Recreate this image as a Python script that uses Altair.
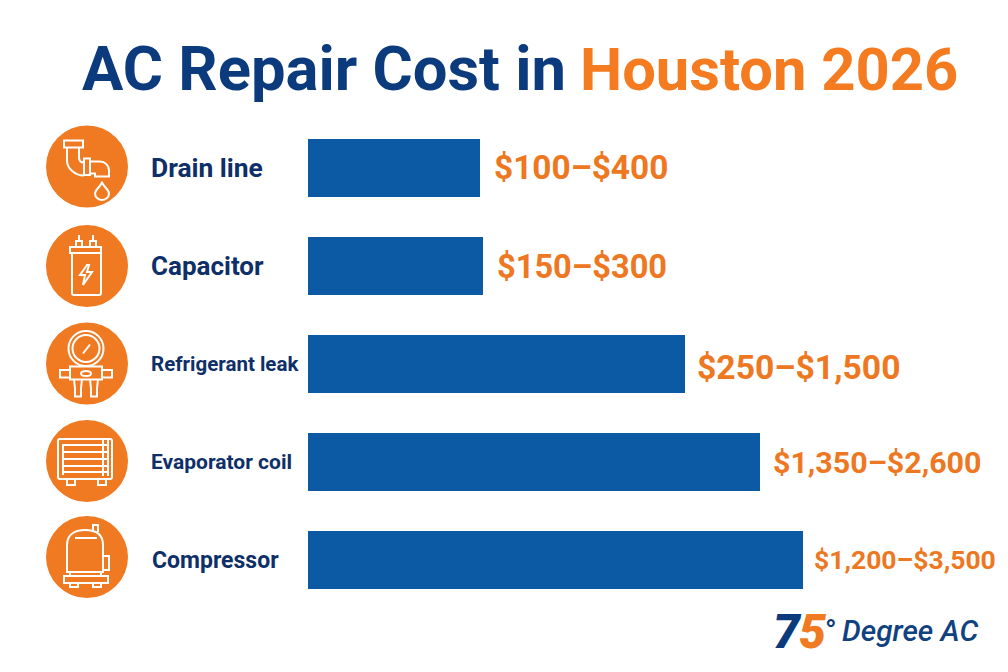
import altair as alt
import pandas as pd

# Repair types, top to bottom
ITEMS = ["Drain line", "Capacitor", "Refrigerant leak", "Evaporator coil", "Compressor"]
RANGES = ["$100–$400", "$150–$300", "$250–$1,500", "$1,350–$2,600", "$1,200–$3,500"]
# bar lengths are not proportional to the ranges in the original
BAR_LENGTHS = [172, 175, 377, 452, 495]

NAVY = "#0b3b7c"
LABEL_NAVY = "#0e2f68"
BLUE = "#0c5aa3"
ORANGE = "#f07a22"
LABEL_ORANGE = "#ee7722"
FONT = "Roboto"

# white line icons, path units are pixels from the centre of the circle
ICONS = {
    "Drain line": (
        "M-23 -26H-4V-19H-23Z M-20 -19V-6C-20 2 -12 9 -3 9 M-8 -19V-9C-8 -6 -6 -4 -3 -4 "
        "M-3 -8H3V8.5H-3Z M3 -5H13C18 -5 22 -1 22 4V10H8V7H3 "
        "M15 15C15 19 22 23 22 27C22 31 18 33.5 15 33.5C12 33.5 8 31 8 27C8 23 15 19 15 15Z"
    ),
    "Capacitor": (
        "M-17 -19H14V-13H-17Z M-15 -13V27C-15 28 -14 29 -13 29H12C13 29 14 28 14 27V-13 "
        "M-8 -25V-31 M-11 -19V-25H-5V-19 M6 -25V-31 M3 -19V-25H9V-19 "
        "M0 -1L-7 9H-2L-4 19L5 6H0L2 -1Z"
    ),
    "Refrigerant leak": (
        "M-18.5 -15A17.5 17.5 0 1 1 16.5 -15A17.5 17.5 0 1 1 -18.5 -15Z "
        "M-14.5 -15A13.5 13.5 0 1 1 12.5 -15A13.5 13.5 0 1 1 -14.5 -15Z "
        "M-4 -10L3 -19 M-17 3H15V16H-17Z M-6 10A5 2.5 0 1 1 4 10A5 2.5 0 1 1 -6 10Z "
        "M-17 6.5H-27V14H-17 M15 6.5H25V14H15 "
        "M-13 16L-12 25V33H-6V25L-5 16 M3 16L4 25V33H10V25L11 16"
    ),
    "Evaporator coil": (
        "M-27 -22H23C24 -22 25 -21 25 -20V16C25 17 24 18 23 18H-27C-28 18 -29 17 -29 16V-20C-29 -21 -28 -22 -27 -22Z "
        "M-20 18V24H-12V18 M11 18V24H19V18 M16 -21V15 M21 -21V15 M-24 -17V14 "
        "M-24 -16H21 M-24 -9H21 M-24 -2H21 M-24 5H21 M-24 11H21"
    ),
    "Compressor": (
        "M-20 15V-12C-20 -24 -10 -27 -2 -27C8 -27 16 -24 16 -12V15Z M-12 -19H10 "
        "M6 -26V-32H11V-25 M16 -1H22V13H16 M-17 15V19 M14 15V19 "
        "M-23 19H21V26H-23Z M-17 26V30H-9V26 M6 26V30H14V26"
    ),
}

# small per row nudges seen in the original
ICON_NUDGE = [-1.5, 0, -0.5, -1, -3]
LABEL_NUDGE = [1, 1, 1, 1, 1]
LABEL_LEFT = [-157, -157, -157, -157, -156]
LABEL_SIZES = [26.4, 26, 20.5, 21, 23]
RANGE_SIZES = [33.4, 32.6, 33.7, 30.4, 26.5]
RANGE_GAPS = [14, 14, 12, 13, 11]
RANGE_NUDGE = [1, 2, 5, 2, 1]

data = pd.DataFrame({"item": ITEMS, "range": RANGES, "length": BAR_LENGTHS})

y = alt.Y("item:N", scale=alt.Scale(domain=ITEMS), axis=None)
x = alt.X("length:Q", scale=alt.Scale(domain=[0, 692]), axis=None)

bars = alt.Chart(data).mark_bar(color=BLUE, size=58).encode(x=x, y=y)

layers = [bars]
for i, item in enumerate(ITEMS):
    row = alt.Chart(data[data["item"] == item])
    layers.append(
        row.mark_point(shape="circle", size=6724, filled=True, color=ORANGE, opacity=1, yOffset=ICON_NUDGE[i])
        .encode(x=alt.value(-221), y=y)
    )
    layers.append(
        row.mark_point(shape=ICONS[item], size=4, filled=False, stroke="white", strokeWidth=2,
                       opacity=1, yOffset=ICON_NUDGE[i])
        .encode(x=alt.value(-221), y=y)
    )
    layers.append(
        row.mark_text(align="left", baseline="middle", font=FONT, fontWeight="bold", color=LABEL_NAVY,
                      fontSize=LABEL_SIZES[i], yOffset=LABEL_NUDGE[i])
        .encode(x=alt.value(LABEL_LEFT[i]), y=y, text="item:N")
    )
    layers.append(
        row.mark_text(align="left", baseline="middle", font=FONT, fontWeight="bold", color=LABEL_ORANGE,
                      fontSize=RANGE_SIZES[i], dx=RANGE_GAPS[i], yOffset=RANGE_NUDGE[i])
        .encode(x=x, y=y, text="range:N")
    )


def label(text, x_pos, y_pos, size, color, **kw):
    return alt.Chart(pd.DataFrame({"t": [text]})).mark_text(
        align="left", baseline="alphabetic", color=color, fontSize=size, **kw
    ).encode(x=alt.value(x_pos), y=alt.value(y_pos), text="t:N")


# two coloured title and the logo, placed relative to the plot area
layers += [
    label("AC Repair Cost in", -226, -29, 61.5, NAVY, font=FONT, fontWeight="bold"),
    label("Houston 2026", 272, -29, 59.7, "#f47b20", font=FONT, fontWeight="bold"),
    label("7", 465, 529, 48, NAVY, font="Roboto", fontWeight=900, fontStyle="italic"),
    label("5", 491, 529, 48, ORANGE, font="Roboto", fontWeight=900, fontStyle="italic"),
    label("°", 517, 522, 30, NAVY, font="Roboto", fontWeight="bold"),
    label("Degree AC", 534, 522, 29.7, "#11427f", font="Roboto", fontWeight=500, fontStyle="italic"),
]

chart = alt.layer(*layers).properties(
    width=692,
    height=490,
    padding={"left": 300, "top": 111, "right": 0, "bottom": 55},
    autosize=alt.AutoSizeParams(type="none"),
    background="white",
).configure_view(stroke=None)

chart.save("out.html", embed_options={"renderer": "svg", "actions": False})
